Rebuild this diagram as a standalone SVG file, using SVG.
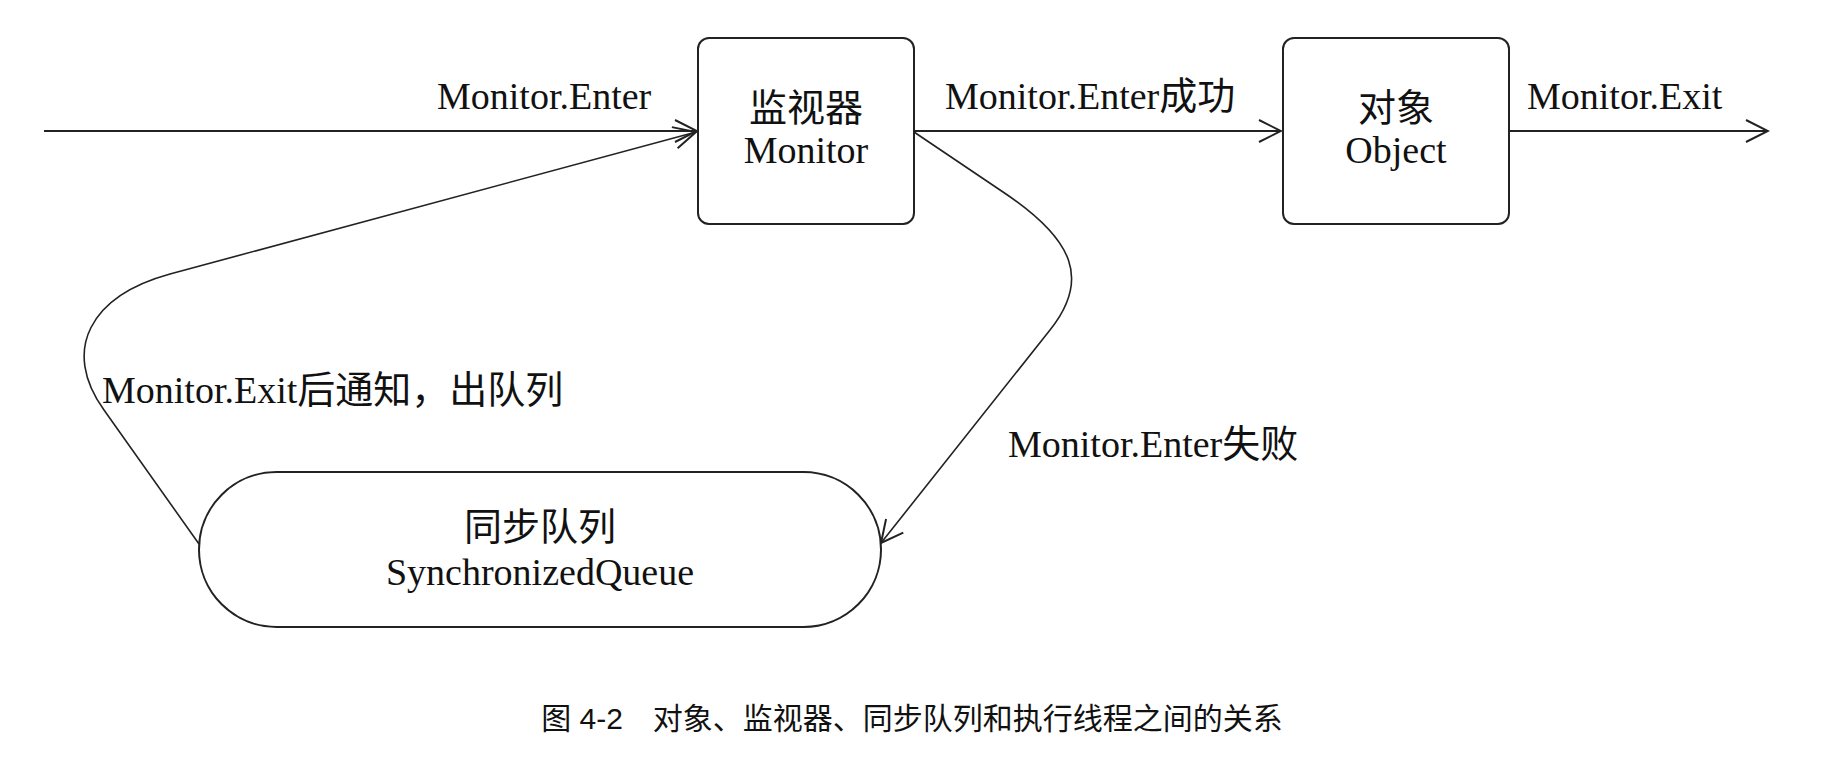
<svg xmlns="http://www.w3.org/2000/svg" width="1846" height="758" viewBox="0 0 1846 758">
  <style>
    .node { fill: #fff; stroke: #222; stroke-width: 2; }
    .edge { fill: none; stroke: #222; stroke-width: 2; }
    .curve { fill: none; stroke: #222; stroke-width: 1.6; }
    .lbl { font-family: "Liberation Serif", "Noto Sans CJK SC", serif; font-size: 38px; fill: #111; }
    .cjk { font-family: "Noto Sans CJK SC", sans-serif; font-size: 38px; fill: #111; }
    .caption { font-family: "Liberation Sans", "Noto Sans CJK SC", sans-serif; font-size: 30px; fill: #111; }
  </style>
  <defs>
    <marker id="arrow" viewBox="-25 -13 27 26" refX="0" refY="0" markerWidth="27" markerHeight="26" markerUnits="userSpaceOnUse" orient="auto">
      <path d="M -22 -11 L 0 0 L -22 11" fill="none" stroke="#222" stroke-width="2"/>
    </marker>
  </defs>
  <rect width="1846" height="758" fill="#fff"/>

  <!-- connectors -->
  <g id="connectors">
    <line class="edge" x1="44" y1="131" x2="697" y2="131" marker-end="url(#arrow)"/>
    <line class="edge" x1="914" y1="131" x2="1281" y2="131" marker-end="url(#arrow)"/>
    <line class="edge" x1="1509" y1="131" x2="1768" y2="131" marker-end="url(#arrow)"/>
    <!-- enter failed: monitor -> queue -->
    <path class="curve" d="M 914 132 L 1003 192 C 1075 240, 1090 280, 1050 330 L 881 543" marker-end="url(#arrow)"/>
    <!-- exit notification: queue -> monitor -->
    <path class="curve" d="M 199 544 L 104 410 C 61 350, 90 296, 170 274 L 696 132" marker-end="url(#arrow)"/>
    <text class="lbl" x="437" y="109">Monitor.Enter</text>
    <text class="lbl" x="945" y="109">Monitor.Enter成功</text>
    <text class="lbl" x="1527" y="109">Monitor.Exit</text>
    <text class="lbl" x="1008" y="457">Monitor.Enter失败</text>
    <text class="lbl" x="102" y="403">Monitor.Exit后通知，出队列</text>
  </g>

  <!-- monitor -->
  <g id="monitor">
    <rect class="node" x="698" y="38" width="216" height="186" rx="11" ry="11"/>
    <text class="cjk" x="806" y="121" text-anchor="middle">监视器</text>
    <text class="lbl" x="806" y="163" text-anchor="middle">Monitor</text>
  </g>

  <!-- object -->
  <g id="object">
    <rect class="node" x="1283" y="38" width="226" height="186" rx="11" ry="11"/>
    <text class="cjk" x="1396" y="121" text-anchor="middle">对象</text>
    <text class="lbl" x="1396" y="163" text-anchor="middle">Object</text>
  </g>

  <!-- synchronized queue -->
  <g id="queue">
    <rect class="node" x="199" y="472" width="682" height="155" rx="77.5" ry="77.5"/>
    <text class="cjk" x="540" y="540" text-anchor="middle">同步队列</text>
    <text class="lbl" x="540" y="585" text-anchor="middle">SynchronizedQueue</text>
  </g>

  <text class="caption" x="912" y="729" text-anchor="middle">图 4-2　对象、监视器、同步队列和执行线程之间的关系</text>
</svg>
